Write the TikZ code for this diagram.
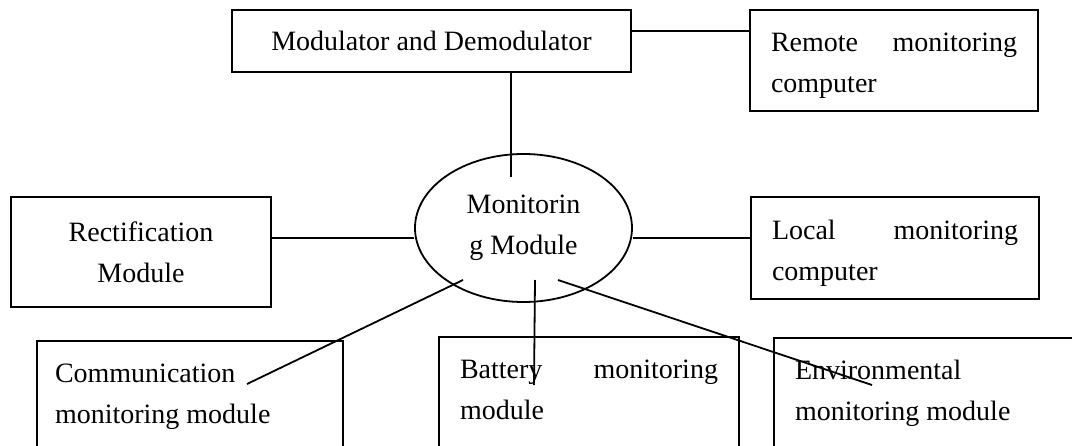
\documentclass[tikz,border=0pt]{standalone}
\usepackage{fontspec}
\setmainfont{Liberation Serif}
\usetikzlibrary{shapes.geometric}

\begin{document}
\begin{tikzpicture}[x=0.5pt,y=-0.5pt,line width=0.9pt,
  font=\fontsize{14}{20.5}\selectfont,
  block/.style={draw,rectangle,inner sep=0pt,outer sep=0pt},
  wideblock/.style={block,text width=123pt,inner xsep=10.5pt,align=flush left,text height=14.5pt},
  lowblock/.style={block,anchor=north west,align=flush left,text height=10pt,text depth=80pt,inner ysep=10.5pt,inner xsep=10.5pt},
  hub/.style={draw,ellipse,inner sep=0pt,minimum width=108.5pt,minimum height=74pt,align=center}]
  \useasboundingbox (0,0) rectangle (1072,445);
  \clip (0,0) rectangle (1072,445);

  \node[block,minimum width=199.5pt,minimum height=31pt] (modem) at (431.5,41) {Modulator and Demodulator};
  \node[wideblock,minimum height=50.5pt] (remote) at (894,60.5) {Remote\hfill monitoring\\computer};
  \node[hub] (monitor) at (523.5,228) {Monitorin\\g Module};
  \node[block,minimum width=130pt,minimum height=55pt,align=center] (rectifier) at (141,252) {Rectification\\Module};
  \node[wideblock,minimum height=51pt] (local) at (895,248) {Local\hfill monitoring\\computer};
  \node[lowblock,inner xsep=9pt,text width=135pt] (comm) at (37,341) {Communication\\monitoring module};
  \node[lowblock,text width=129pt] (battery) at (439,337) {Battery\hfill monitoring\\module};
  \node[lowblock,text width=140pt] (env) at (774,338) {Environmental\\monitoring module};

  \path ([shift={(0,-10)}]modem.east) edge ([shift={(0,-29.5)}]remote.west)
        ([shift={(79.5,0)}]modem.south) edge ([shift={(-12.5,-51)}]monitor.center)
        ([shift={(0,-14)}]rectifier.east) edge ([shift={(0,10)}]monitor.west)
        ([shift={(0,10)}]monitor.east) edge ([shift={(0,-10)}]local.west)
        ([shift={(-60.5,52)}]monitor.center) edge ([shift={(210,43)}]comm.north west)
        ([shift={(11.5,52)}]monitor.center) edge ([shift={(95,48)}]battery.north west)
        ([shift={(34.5,52)}]monitor.center) edge ([shift={(98,47)}]env.north west);
\end{tikzpicture}
\end{document}
